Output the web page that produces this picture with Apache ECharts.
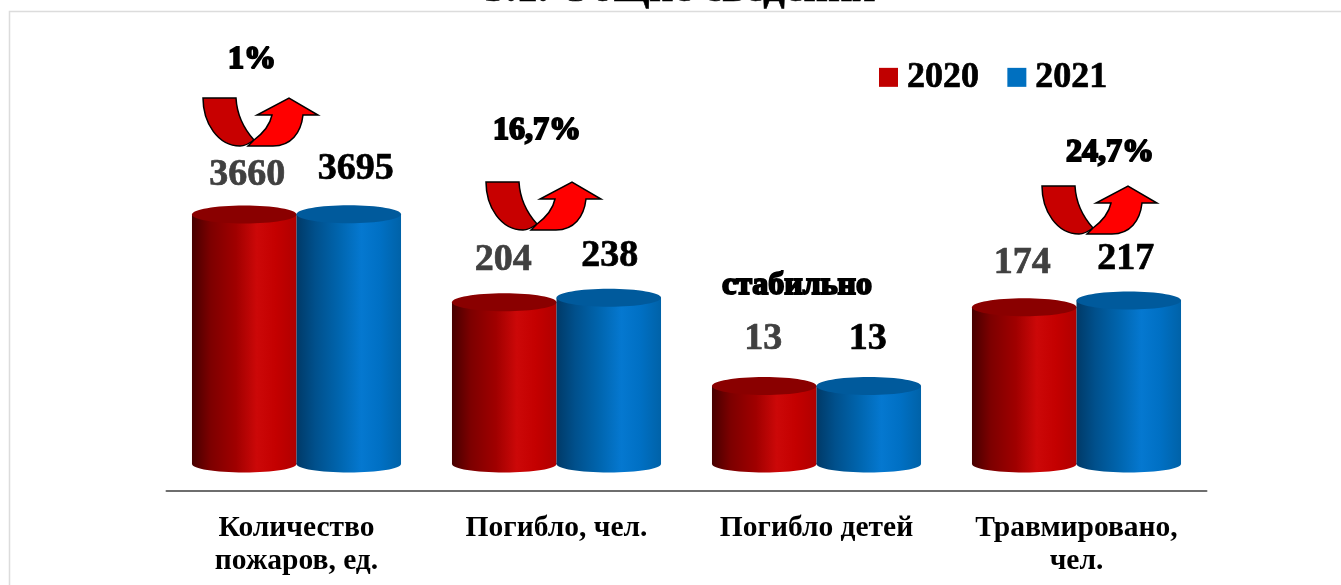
<!DOCTYPE html>
<html>
<head>
<meta charset="utf-8">
<style>html,body{margin:0;padding:0;background:#fff}#c{width:1341px;height:585px}</style>
<script src="https://cdn.jsdelivr.net/npm/echarts@6/dist/echarts.min.js"></script>
</head>
<body>
<div id="c"></div>
<script>
const categories = ['Количество\nпожаров, ед.', 'Погибло, чел.', 'Погибло детей', 'Травмировано,\nчел.'];
const seriesNames = ['2020', '2021'];
const values2020 = [3660, 204, 13, 174];
const values2021 = [3695, 238, 13, 217];
const changeLabels = ['1%', '16,7%', 'стабильно', '24,7%'];
const title = '3.1. Общие сведения';

const labelLift2020 = [39, 42, 47, 44];
const labelLift2021 = [45, 41, 47, 41];
const labelShift2020 = [3, -1, -1, -2];
const labelShift2021 = [7, 1, -1, -3];
const changeAnchors = [[252, 60], [537, 131], [797, 286], [1110, 153]];
const arrowAnchors = [[203, 98], [486, 182], [1042, 186]];
const serif = '"Liberation Serif", serif';

const chart = echarts.init(document.getElementById('c'), null, {renderer: 'canvas'});

function grad(stops) {
  return {type: 'linear', x: 0, y: 0, x2: 1, y2: 0,
    colorStops: stops.map(s => ({offset: s[0], color: s[1]}))};
}
const redBody = grad([[0, '#470000'], [0.18, '#7d0000'], [0.42, '#a00000'], [0.62, '#cc0808'], [0.8, '#c40000'], [1, '#b00000']]);
const blueBody = grad([[0, '#003a68'], [0.18, '#00508c'], [0.42, '#0066b0'], [0.62, '#0578d0'], [0.8, '#0070c4'], [1, '#0062a8']]);

function cylinder(side, body, top, textFill, lift, shift) {
  return function (params, api) {
    const i = api.value(0), v = api.value(1);
    const pTop = api.coord([i, v]);
    const pBase = api.coord([i, 1]);
    const w = api.size([1, 0])[0] * 0.402;
    const cx = pTop[0] + side * w / 2;
    return {
      type: 'group',
      children: [
        {type: 'ellipse', shape: {cx: cx, cy: pBase[1], rx: w / 2, ry: 8.5}, style: {fill: body}},
        {type: 'rect', shape: {x: cx - w / 2, y: pTop[1], width: w, height: pBase[1] - pTop[1]}, style: {fill: body}},
        {type: 'ellipse', shape: {cx: cx, cy: pTop[1], rx: w / 2, ry: 9}, style: {fill: top}},
        {type: 'text', style: {text: String(v), x: cx + shift[i], y: pTop[1] - lift[i], align: 'center', verticalAlign: 'middle',
          fill: textFill, stroke: textFill, lineWidth: 0.7, font: 'bold 38px ' + serif}}
      ]
    };
  };
}

const dark = 'M0,0 L33,0 C34,18 42,32 51,42 C47,45 42,48 37,48 C15,48 0,25 0,0 Z';
const light = 'M45,48 L70,48 C88,48 98,35 100,17 L115,17 L86,0 L54,17 L69,17 C67,27 59,36 51,42 C49,44 47,46 45,48 Z';

function arrowItem(params, api) {
  const a = arrowAnchors[params.dataIndex];
  return {
    type: 'group',
    children: [
      {type: 'path', shape: {pathData: dark, x: a[0], y: a[1], width: 51, height: 48, layout: 'cover'},
        style: {fill: '#c80000', stroke: '#000', lineWidth: 1.5}},
      {type: 'path', shape: {pathData: light, x: a[0] + 45, y: a[1], width: 70, height: 48, layout: 'cover'},
        style: {fill: '#ff0000', stroke: '#000', lineWidth: 1.5}}
    ]
  };
}

const graphics = [
  {type: 'rect', silent: true, z: 0, shape: {x: 9.5, y: 11.5, width: 1400, height: 700}, style: {fill: 'none', stroke: '#dcdcdc', lineWidth: 1.5}},
  {type: 'text', silent: true, style: {text: title, x: 680, y: -10, align: 'center', verticalAlign: 'middle', fill: '#000', stroke: '#000', lineWidth: 0.6, font: 'bold 42.5px ' + serif}}
];
changeLabels.forEach((t, i) => {
  graphics.push({type: 'text', silent: true, z: 7, style: {text: t, x: changeAnchors[i][0], y: changeAnchors[i][1], align: 'center', verticalAlign: 'middle',
    fill: '#000', stroke: '#000', lineWidth: 2, font: 'bold 32px ' + serif}});
});

chart.setOption({
  animation: false,
  backgroundColor: '#fff',
  grid: {left: 166.5, right: 134.5, top: 184, bottom: 121},
  legend: {
    left: 874, top: 54, itemWidth: 19, itemHeight: 19, itemGap: 28, icon: 'rect',
    data: seriesNames,
    textStyle: {fontFamily: serif, fontWeight: 'bold', fontSize: 36, color: '#000', textBorderColor: '#000', textBorderWidth: 0.7, padding: [0, 0, 0, 4]}
  },
  xAxis: {
    type: 'category', data: categories, offset: 27,
    axisLine: {show: true, lineStyle: {color: '#6e6e6e', width: 2}},
    axisTick: {show: false},
    axisLabel: {interval: 0, margin: 21, fontFamily: serif, fontWeight: 'bold', fontSize: 29.5, lineHeight: 33, color: '#000'}
  },
  yAxis: {type: 'log', logBase: 10, min: 1, max: 10000, show: false, splitLine: {show: false}},
  series: [
    {name: seriesNames[0], type: 'custom', clip: false, itemStyle: {color: '#c00000'},
      renderItem: cylinder(-1, redBody, '#8a0000', '#404040', labelLift2020, labelShift2020),
      data: values2020.map((v, i) => [i, v]), encode: {x: 0, y: 1}},
    {name: seriesNames[1], type: 'custom', clip: false, itemStyle: {color: '#0070c0'},
      renderItem: cylinder(1, blueBody, '#005a9c', '#000', labelLift2021, labelShift2021),
      data: values2021.map((v, i) => [i, v]), encode: {x: 0, y: 1}},
    {name: 'arrows', type: 'custom', clip: false, silent: true, z: 5, renderItem: arrowItem,
      data: arrowAnchors.map((a, i) => [i, 1]), encode: {x: 0, y: 1}}
  ],
  graphic: {elements: graphics}
});
</script>
</body>
</html>
